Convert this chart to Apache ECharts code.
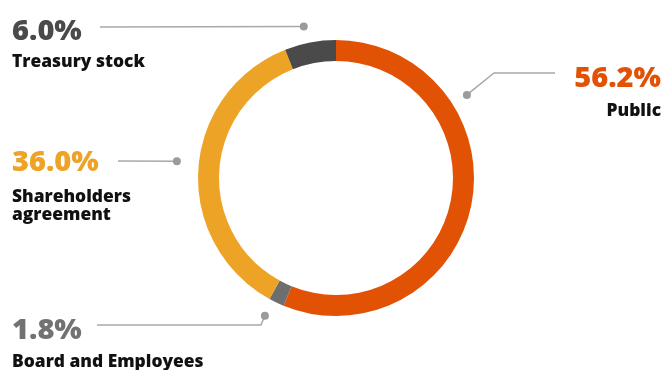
<!DOCTYPE html>
<html>
<head>
<meta charset="utf-8">
<script src="https://cdn.jsdelivr.net/npm/echarts@6/dist/echarts.min.js"></script>
<style>
  html, body { margin: 0; padding: 0; background: #fff; }
  #chart { width: 665px; height: 370px; }
</style>
</head>
<body>
<div id="chart"></div>
<script>
// Ownership structure (share of capital, %)
const holders = ['Public', 'Board and Employees', 'Shareholders agreement', 'Treasury stock'];
const holderCaptions = ['Public', 'Board and Employees', 'Shareholders\nagreement', 'Treasury stock'];
const shares = [56.2, 1.8, 36.0, 6.0];

const sliceColors = ['#E15205', '#6E6E6E', '#EDA326', '#4A4A4A'];
const pctColors = ['#E15205', '#727272', '#EDA326', '#4A4A4A'];

const CX = 336, CY = 178;
const R_IN = 117, R_OUT = 138;

// Leader geometry: the dot sits at a polar position around the ring,
// the label block is anchored at its top-left (or top-right) corner.
const leaders = [
  { angle: 57.6,  r: 155, path: (d) => [d, [494, 73], [555, 73]],   lx: 661, ly: 56,  pctLH: 46, align: 'right' },
  { angle: 207.3, r: 155, path: (d) => [[97, 325], [261, 325], d],  lx: 12,  ly: 309, pctLH: 44, align: 'left' },
  { angle: 276,   r: 160, path: (d) => [[118, 161], [118, 161], d], lx: 12,  ly: 138, pctLH: 50, align: 'left' },
  { angle: 348,   r: 155, path: (d) => [[100, 27], [100, 27], d],   lx: 12,  ly: 10,  pctLH: 43, align: 'left' }
];

function polar(angleDeg, r) {
  const a = angleDeg * Math.PI / 180;
  return [CX + r * Math.sin(a), CY - r * Math.cos(a)];
}

const dots = leaders.map(l => polar(l.angle, l.r));

const chart = echarts.init(document.getElementById('chart'), null, { renderer: 'canvas' });

const pieData = holders.map((name, i) => ({
  name: name,
  value: shares[i],
  itemStyle: { color: sliceColors[i] },
  label: {
    rich: {
      pct: { fontFamily: 'Open Sans', fontWeight: 800, fontSize: 29, lineHeight: leaders[i].pctLH, color: pctColors[i] },
      cap: { fontFamily: 'Open Sans', fontWeight: 800, fontSize: 17.4, lineHeight: 18, color: '#111' }
    }
  }
}));

chart.setOption({
  animation: false,
  backgroundColor: '#fff',
  series: [{
    type: 'pie',
    center: [CX, CY],
    radius: [R_IN, R_OUT],
    startAngle: 90,
    clockwise: true,
    avoidLabelOverlap: false,
    silent: true,
    emphasis: { disabled: true },
    data: pieData,
    label: {
      show: true,
      formatter: (p) => '{pct|' + shares[p.dataIndex].toFixed(1) + '%}\n{cap|' + holderCaptions[p.dataIndex] + '}'
    },
    labelLine: {
      show: true,
      smooth: false,
      lineStyle: { color: '#A8A8A8', width: 1.5 }
    },
    labelLayout: (params) => {
      const l = leaders[params.dataIndex];
      return {
        x: l.lx,
        y: l.ly,
        align: l.align,
        verticalAlign: 'top',
        labelLinePoints: l.path(dots[params.dataIndex])
      };
    }
  }],
  graphic: dots.map(d => ({
    type: 'circle',
    shape: { cx: d[0], cy: d[1], r: 4 },
    style: { fill: '#9B9B9B' },
    z: 10
  }))
});
</script>
</body>
</html>
